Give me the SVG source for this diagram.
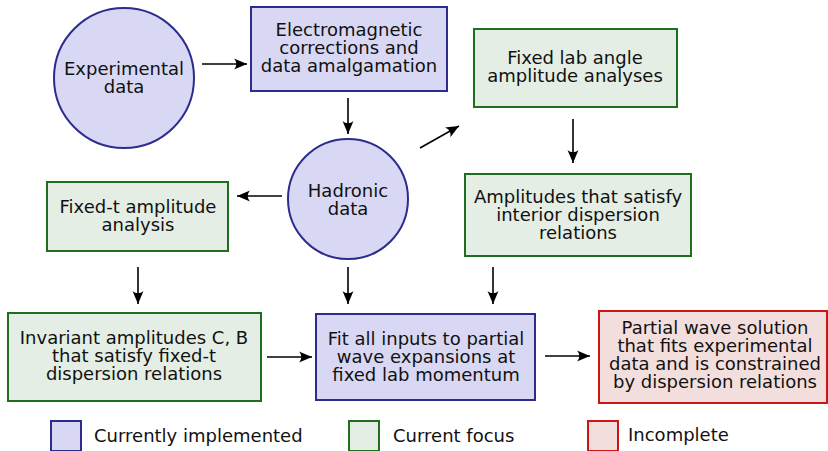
<svg xmlns="http://www.w3.org/2000/svg" width="828" height="451" viewBox="0 0 828 451">
<style>
text{font-family:"DejaVu Sans",sans-serif;font-size:18px;fill:#111;text-anchor:middle}
.leg{text-anchor:start}
.blue{fill:#d8d8f4;stroke:#2c2c8e;stroke-width:2}
.green{fill:#e4eee4;stroke:#1e6e1e;stroke-width:2}
.red{fill:#f3dede;stroke:#cc1616;stroke-width:2}
.conn line{stroke:#000;stroke-width:1.6;marker-end:url(#ah)}
</style>
<defs>
<marker id="ah" markerUnits="userSpaceOnUse" markerWidth="16" markerHeight="14" viewBox="-14 -7 16 14" refX="0" refY="0" orient="auto">
<path d="M0,0 L-13,-5.5 C-10,-2 -10,2 -13,5.5 Z" fill="#000"/>
</marker>
</defs>
<g id="experimental"><circle class="blue" cx="124" cy="78" r="70"/><text><tspan x="124" y="75">Experimental</tspan><tspan x="124" y="93">data</tspan></text></g>
<g id="em"><rect class="blue" x="251" y="7" width="196" height="84"/><text><tspan x="349" y="36">Electromagnetic</tspan><tspan x="349" y="54">corrections and</tspan><tspan x="349" y="72">data amalgamation</tspan></text></g>
<g id="hadronic"><circle class="blue" cx="348" cy="199" r="60"/><text><tspan x="348" y="197">Hadronic</tspan><tspan x="348" y="215">data</tspan></text></g>
<g id="fixedlab"><rect class="green" x="474" y="29" width="203" height="78"/><text><tspan x="575" y="64">Fixed lab angle</tspan><tspan x="575" y="82">amplitude analyses</tspan></text></g>
<g id="interior"><rect class="green" x="465" y="174" width="226" height="82"/><text><tspan x="578" y="203">Amplitudes that satisfy</tspan><tspan x="578" y="221">interior dispersion</tspan><tspan x="578" y="239">relations</tspan></text></g>
<g id="fixedt"><rect class="green" x="47" y="182" width="181" height="69"/><text><tspan x="138" y="213">Fixed-t amplitude</tspan><tspan x="138" y="231">analysis</tspan></text></g>
<g id="invariant"><rect class="green" x="8" y="313" width="253" height="88"/><text><tspan x="134" y="344">Invariant amplitudes C, B</tspan><tspan x="134" y="362">that satisfy fixed-t</tspan><tspan x="134" y="380">dispersion relations</tspan></text></g>
<g id="fit"><rect class="blue" x="316" y="314" width="219" height="86"/><text><tspan x="426" y="345">Fit all inputs to partial</tspan><tspan x="426" y="363">wave expansions at</tspan><tspan x="426" y="381">fixed lab momentum</tspan></text></g>
<g id="partial"><rect class="red" x="599" y="311" width="228" height="92"/><text><tspan x="715" y="334">Partial wave solution</tspan><tspan x="715" y="352">that fits experimental</tspan><tspan x="715" y="370">data and is constrained</tspan><tspan x="715" y="388">by dispersion relations</tspan></text></g>
<g id="legend">
<rect class="blue" x="51" y="421" width="30" height="30"/><text class="leg" x="94" y="442">Currently implemented</text>
<rect class="green" x="349" y="421" width="30" height="30"/><text class="leg" x="393" y="442">Current focus</text>
<rect class="red" x="588" y="421" width="30" height="30"/><text class="leg" x="628" y="441">Incomplete</text>
</g>
<g class="conn" id="connectors">
<line x1="202" y1="64" x2="247" y2="64"/>
<line x1="348" y1="98" x2="348" y2="134"/>
<line x1="420" y1="148" x2="459" y2="126"/>
<line x1="573" y1="119" x2="573" y2="163"/>
<line x1="282" y1="196" x2="237" y2="196"/>
<line x1="138" y1="267" x2="138" y2="304"/>
<line x1="348" y1="267" x2="348" y2="304"/>
<line x1="493" y1="267" x2="493" y2="304"/>
<line x1="267" y1="357" x2="312" y2="357"/>
<line x1="545" y1="356" x2="590" y2="356"/>
</g>
</svg>
